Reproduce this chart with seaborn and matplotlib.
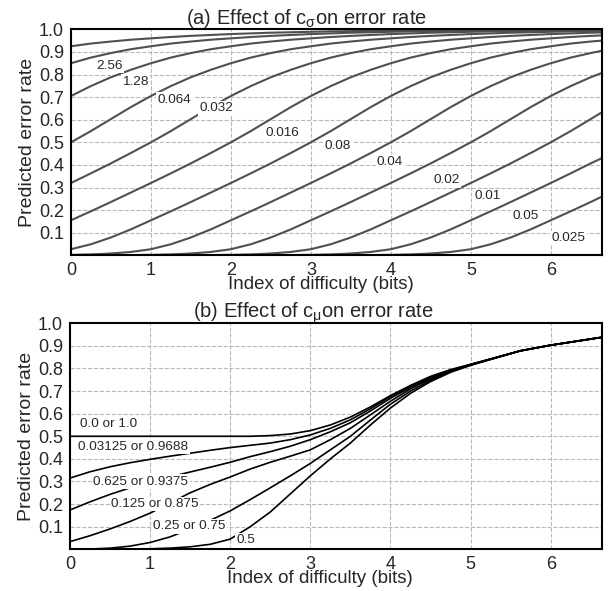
import matplotlib
matplotlib.use("Agg")
import matplotlib.pyplot as plt
import pandas as pd
import seaborn as sns

# ---- (a) effect of c_sigma -------------------------------------------------
id_a = [0, 0.25, 0.5, 0.75, 1, 1.25, 1.5, 1.75, 2, 2.25, 2.5, 2.75, 3, 3.25,
        3.5, 3.75, 4, 4.25, 4.5, 4.75, 5, 5.25, 5.5, 5.75, 6, 6.25, 6.5, 6.64]

err_5_12 = [0.925, 0.937, 0.946, 0.954, 0.96, 0.966, 0.971, 0.975, 0.979, 0.982, 0.985, 0.987, 0.989, 0.991,
            0.992, 0.993, 0.994, 0.995, 0.9955, 0.996, 0.9965, 0.997, 0.997, 0.9975, 0.9975, 0.998, 0.998, 0.998]
err_2_56 = [0.85, 0.875, 0.895, 0.912, 0.925, 0.937, 0.946, 0.954, 0.96, 0.966, 0.971, 0.975, 0.979, 0.982,
            0.985, 0.987, 0.989, 0.991, 0.992, 0.993, 0.994, 0.995, 0.9955, 0.996, 0.9965, 0.997, 0.997, 0.997]
err_1_28 = [0.705, 0.749, 0.788, 0.821, 0.85, 0.875, 0.895, 0.912, 0.925, 0.937, 0.946, 0.954, 0.96, 0.966,
            0.971, 0.975, 0.979, 0.982, 0.985, 0.987, 0.989, 0.991, 0.992, 0.993, 0.994, 0.995, 0.9955, 0.9955]
err_0_64 = [0.5, 0.55, 0.603, 0.656, 0.705, 0.749, 0.788, 0.821, 0.85, 0.875, 0.895, 0.912, 0.925, 0.937,
            0.946, 0.954, 0.96, 0.966, 0.971, 0.975, 0.979, 0.982, 0.985, 0.987, 0.989, 0.991, 0.992, 0.9925]
err_0_32 = [0.32, 0.363, 0.407, 0.453, 0.5, 0.55, 0.603, 0.656, 0.705, 0.749, 0.788, 0.821, 0.85, 0.875,
            0.895, 0.912, 0.925, 0.937, 0.946, 0.954, 0.96, 0.966, 0.971, 0.975, 0.979, 0.982, 0.985, 0.986]
err_0_16 = [0.155, 0.195, 0.236, 0.278, 0.32, 0.363, 0.407, 0.453, 0.5, 0.55, 0.603, 0.656, 0.705, 0.749,
            0.788, 0.821, 0.85, 0.875, 0.895, 0.912, 0.925, 0.937, 0.946, 0.954, 0.96, 0.966, 0.971, 0.973]
err_0_08 = [0.027, 0.049, 0.079, 0.115, 0.155, 0.195, 0.236, 0.278, 0.32, 0.363, 0.407, 0.453, 0.5, 0.55,
            0.603, 0.656, 0.705, 0.749, 0.788, 0.821, 0.85, 0.875, 0.895, 0.912, 0.925, 0.937, 0.946, 0.95]
err_0_04 = [0.002, 0.004, 0.008, 0.015, 0.027, 0.049, 0.079, 0.115, 0.155, 0.195, 0.236, 0.278, 0.32, 0.363,
            0.407, 0.453, 0.5, 0.55, 0.603, 0.656, 0.705, 0.749, 0.788, 0.821, 0.85, 0.875, 0.895, 0.905]
err_0_02 = [0, 0.0003, 0.0006, 0.001, 0.002, 0.004, 0.008, 0.015, 0.027, 0.049, 0.079, 0.115, 0.155, 0.195,
            0.236, 0.278, 0.32, 0.363, 0.407, 0.453, 0.5, 0.55, 0.603, 0.656, 0.705, 0.749, 0.788, 0.807]
err_0_01 = [0, 0, 0, 0, 0, 0.0003, 0.0006, 0.001, 0.002, 0.004, 0.008, 0.015, 0.027, 0.049,
            0.079, 0.115, 0.155, 0.195, 0.236, 0.278, 0.32, 0.363, 0.407, 0.453, 0.5, 0.55, 0.603, 0.633]
err_0_005 = [0, 0, 0, 0, 0, 0, 0, 0, 0, 0.0003, 0.0006, 0.001, 0.002, 0.004,
             0.008, 0.015, 0.027, 0.049, 0.079, 0.115, 0.155, 0.195, 0.236, 0.278, 0.32, 0.363, 0.407, 0.43]
err_0_0025 = [0, 0, 0, 0, 0, 0, 0, 0, 0, 0, 0, 0, 0, 0.0003,
              0.0006, 0.001, 0.002, 0.004, 0.008, 0.015, 0.027, 0.049, 0.079, 0.115, 0.155, 0.195, 0.236, 0.26]

sigma_curves = [err_5_12, err_2_56, err_1_28, err_0_64, err_0_32, err_0_16,
                err_0_08, err_0_04, err_0_02, err_0_01, err_0_005, err_0_0025]
sigma_labels = ["2.56", "1.28", "0.064", "0.032", "0.016", "0.08",
                "0.04", "0.02", "0.01", "0.05", "0.025"]

# ---- (b) effect of c_mu ----------------------------------------------------
id_b = [0, 0.25, 0.5, 0.75, 1, 1.25, 1.5, 1.75, 2, 2.25, 2.5, 2.75, 3, 3.25,
        3.5, 3.75, 4, 4.25, 4.5, 4.75, 5, 5.62, 6, 6.64]

mu_0_0 = [0.5, 0.5, 0.5, 0.5, 0.5, 0.5, 0.5, 0.5, 0.5, 0.5, 0.503, 0.51, 0.525, 0.55,
          0.585, 0.63, 0.68, 0.725, 0.765, 0.795, 0.818, 0.878, 0.903, 0.938]
mu_0_03125 = [0.315, 0.343, 0.365, 0.383, 0.398, 0.412, 0.425, 0.438, 0.45, 0.46, 0.47, 0.485, 0.506, 0.535,
              0.573, 0.622, 0.676, 0.722, 0.762, 0.793, 0.818, 0.878, 0.903, 0.938]
mu_0_0625 = [0.174, 0.21, 0.243, 0.272, 0.297, 0.32, 0.342, 0.363, 0.385, 0.41, 0.432, 0.456, 0.485, 0.52,
             0.56, 0.612, 0.668, 0.717, 0.758, 0.791, 0.817, 0.878, 0.903, 0.938]
mu_0_125 = [0.034, 0.06, 0.09, 0.123, 0.16, 0.205, 0.25, 0.287, 0.32, 0.355, 0.385, 0.412, 0.44, 0.485,
            0.535, 0.595, 0.655, 0.71, 0.754, 0.789, 0.816, 0.878, 0.903, 0.938]
mu_0_25 = [0, 0.001, 0.005, 0.014, 0.03, 0.055, 0.09, 0.128, 0.17, 0.22, 0.272, 0.325, 0.38, 0.44,
           0.5, 0.572, 0.642, 0.7, 0.748, 0.786, 0.815, 0.878, 0.903, 0.938]
mu_0_5 = [0, 0, 0, 0.001, 0.002, 0.005, 0.011, 0.022, 0.045, 0.10, 0.165, 0.245, 0.325, 0.40,
          0.47, 0.55, 0.625, 0.69, 0.742, 0.783, 0.814, 0.878, 0.903, 0.938]

mu_curves = [mu_0_0, mu_0_03125, mu_0_0625, mu_0_125, mu_0_25, mu_0_5]
mu_labels = ["0.0 or 1.0", "0.03125 or 0.9688", "0.625 or 0.9375",
             "0.125 or 0.875", "0.25 or 0.75", "0.5"]


def to_frame(xs, curves):
    rows = []
    for k, ys in enumerate(curves):
        assert len(ys) == len(xs)
        for x, y in zip(xs, ys):
            rows.append({"id": x, "err": y, "curve": k})
    return pd.DataFrame(rows)


sns.set_style("white")
plt.rcParams["font.family"] = ["Liberation Sans", "DejaVu Sans"]
plt.rcParams["mathtext.fontset"] = "custom"
plt.rcParams["mathtext.rm"] = "Liberation Sans"
plt.rcParams["mathtext.it"] = "Liberation Sans:italic"

fig = plt.figure(figsize=(6.13, 5.91), dpi=100)
ax1 = fig.add_axes([0.1158, 0.568, 0.8662, 0.3824])
ax2 = fig.add_axes([0.1142, 0.0706, 0.8678, 0.3824])


def style_axes(ax):
    ax.set_xlim(0, 6.64)
    ax.set_ylim(0, 1.0)
    ax.set_xticks(range(7))
    ax.set_yticks([0.1, 0.2, 0.3, 0.4, 0.5, 0.6, 0.7, 0.8, 0.9, 1.0])
    ax.set_yticklabels(["0.1", "0.2", "0.3", "0.4", "0.5", "0.6", "0.7", "0.8", "0.9", "1.0"])
    ax.grid(True, ls="--", color="#b8b8b8", lw=0.8)
    ax.set_axisbelow(True)
    for sp in ax.spines.values():
        sp.set_visible(True)
        sp.set_color("black")
        sp.set_linewidth(1.5)
    ax.tick_params(axis="both", direction="in", length=4, width=1, labelsize=13, pad=5, color="black")
    ax.set_ylabel("Predicted error rate", fontsize=14, labelpad=2)
    ax.set_xlabel("Index of difficulty (bits)", fontsize=13.5, labelpad=-2, x=0.47)


df_a = to_frame(id_a, sigma_curves)
sns.lineplot(data=df_a, x="id", y="err", units="curve", estimator=None,
             color="#505050", lw=1.5, ax=ax1, legend=False)
style_axes(ax1)
ax1.set_title(r"(a) Effect of c$_{\mathregular{σ}}$on error rate", fontsize=14.5, x=0.444, pad=4)

pos_a = [(0.48, 0.838), (0.81, 0.769), (1.295, 0.689), (1.82, 0.650), (2.645, 0.542),
         (3.33, 0.484), (3.99, 0.414), (4.70, 0.332), (5.21, 0.262), (5.69, 0.175), (6.22, 0.077)]
for lab, (x, y) in zip(sigma_labels, pos_a):
    ax1.text(x, y, lab, fontsize=9.7, ha="center", va="center",
             bbox=dict(boxstyle="square,pad=0.1", fc="white", ec="none"))

df_b = to_frame(id_b, mu_curves)
sns.lineplot(data=df_b, x="id", y="err", units="curve", estimator=None,
             color="black", lw=1.2, ax=ax2, legend=False)
style_axes(ax2)
ax2.set_title(r"(b) Effect of c$_{\mathregular{μ}}$on error rate", fontsize=14.5, x=0.457, pad=4)

pos_b = [(0.478, 0.555), (0.79, 0.454), (0.884, 0.299), (1.06, 0.20), (1.49, 0.102), (2.195, 0.039)]
for lab, (x, y) in zip(mu_labels, pos_b):
    ax2.text(x, y, lab, fontsize=9.7, ha="center", va="center",
             bbox=dict(boxstyle="square,pad=0.1", fc="white", ec="none"))

fig.savefig("out.png", dpi=100)
